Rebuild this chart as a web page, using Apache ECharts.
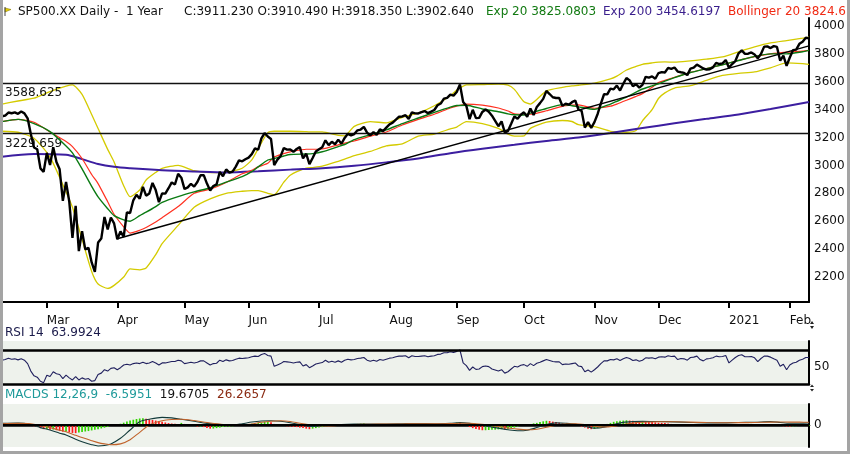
<!DOCTYPE html>
<html><head><meta charset="utf-8">
<script src="https://cdn.jsdelivr.net/npm/echarts@6/dist/echarts.min.js"></script>
<style>html,body{margin:0;padding:0;background:#fff;}#c{width:850px;height:454px;}</style>
</head><body><div id="c"></div>
<script>
// ---- data ----
const close = [
3352.09,3357.75,3379.45,3373.94,3380.16,3370.29,3386.15,3373.23,3337.75,3225.89,3128.21,3116.39,2978.76,2954.22,
3090.23,3003.37,3130.12,3023.94,2972.37,2746.56,2882.23,2741.38,2480.64,2711.02,2386.13,2529.19,2398.10,2409.39,2304.92,2237.40,2447.33,2475.56,2630.07,2541.47,2626.65,2584.59,
2470.50,2526.90,2488.65,2663.68,2659.41,2749.98,2789.82,2761.63,2846.06,2783.36,2799.55,2874.56,2823.16,2736.56,2799.31,2797.80,2836.74,2878.48,2863.39,2939.51,2912.43,
2830.71,2842.74,2868.44,2848.42,2881.19,2929.80,2930.32,2870.12,2820.00,2852.50,2863.70,2953.91,2922.94,2971.61,2948.51,2955.45,2991.77,3036.13,3029.73,3044.31,
3055.73,3080.82,3122.87,3112.35,3193.93,3232.39,3207.18,3190.14,3002.10,3041.31,3066.59,3124.74,3113.49,3115.34,3097.74,3117.86,3131.29,3050.33,3083.76,3009.05,3053.24,3100.29,
3115.86,3130.01,3179.72,3145.32,3169.94,3152.05,3185.04,3155.22,3197.52,3226.56,3215.57,3224.73,3251.84,3257.30,3276.02,3235.66,3215.63,3239.41,3218.44,3258.44,3246.22,3271.12,
3294.61,3306.51,3327.77,3349.16,3351.28,3360.47,3333.69,3380.35,3373.43,3372.85,3381.99,3389.78,3374.85,3385.51,3397.16,3431.28,3443.62,3478.73,3484.55,3508.01,3500.31,
3526.65,3580.84,3455.06,3426.96,3331.84,3398.96,3339.19,3340.97,3383.54,3401.20,3385.49,3357.01,3319.47,3281.06,3315.57,3236.92,3246.59,3298.46,3351.60,3335.47,3363.00,
3380.80,3348.42,3408.60,3360.97,3419.44,3446.83,3477.14,3534.22,3511.93,3488.67,3483.34,3483.81,3426.92,3443.12,3435.56,3453.49,3465.39,3400.97,3390.68,3271.03,3310.11,3269.96,
3310.24,3369.16,3443.44,3510.45,3509.44,3550.50,3545.53,3572.66,3537.01,3585.15,3626.91,3609.53,3567.79,3581.87,3557.54,3577.59,3635.41,3629.65,3638.35,3621.63,
3662.45,3669.01,3666.72,3699.12,3691.96,3702.25,3672.82,3668.10,3663.46,3647.49,3694.62,3701.17,3722.48,3709.41,3694.92,3687.26,3690.01,3703.06,3735.36,3727.04,3732.04,3756.07,
3700.65,3726.86,3748.14,3803.79,3824.68,3799.61,3801.19,3809.84,3795.54,3768.25,3798.91,3851.85,3853.07,3841.47,3855.36,3849.62,3750.77,3787.38,3714.24,
3773.86,3826.31,3830.17,3871.74,3886.83,3915.59,3911.23
];
const holidays = ['2020-02-17','2020-04-10','2020-05-25','2020-07-03','2020-09-07','2020-11-26','2020-12-25','2021-01-01','2021-01-18'];
const monthStartIdx = [14,36,57,77,99,121,142,163,185,205,227,246];
const monthLabels = ['Mar','Apr','May','Jun','Jul','Aug','Sep','Oct','Nov','Dec','2021','Feb'];
const priceTicks = [2200,2400,2600,2800,3000,3200,3400,3600,3800,4000];

const bandIdx = [0,5,10,15,20,22,25,28,30,33, 35,38,40,43,45,48,50,55,60,65, 70,75,78,80,83,85,88,90,95,97, 100,105,107,110,115,120,125,130,135,140, 142,145,150,155,158,160,163,165,170,175, 178,180,185,190,192,195,198,200,203,205, 207,210,215,220,225,230,235,240,245,250, 252];
const bbUpper = [3440,3462,3482,3529,3568,3577,3510,3365,3265,3115, 3025,2855,2776,2824,2896,2950,2979,3001,2962,2948, 2952,2980,3040,3120,3235,3245,3245,3245,3242,3240, 3240,3215,3212,3280,3314,3305,3345,3376,3428,3500, 3540,3577,3580,3584,3575,3545,3457,3440,3535,3560, 3570,3575,3590,3620,3640,3684,3710,3725,3735,3740, 3742,3740,3750,3762,3778,3815,3850,3878,3895,3912, 3920];
const bbLower = [3245,3238,3195,3060,2810,2700,2470,2240,2150,2118, 2140,2200,2258,2252,2265,2360,2440,2570,2700,2760, 2800,2815,2820,2820,2800,2790,2880,2930,2980,2985, 2995,3030,3045,3070,3100,3140,3155,3210,3225,3262, 3275,3314,3300,3265,3225,3210,3212,3266,3310,3322, 3315,3292,3278,3245,3240,3238,3250,3320,3400,3480, 3520,3555,3572,3610,3645,3660,3670,3700,3735,3730, 3725];
const sma20 = [3314,3330,3310,3240,3172,3135,3050,2935,2870,2740, 2650,2560,2515,2535,2555,2595,2625,2705,2800,2830, 2878,2940,2965,2990,3015,3060,3085,3097,3116,3116, 3118,3148,3160,3175,3210,3240,3290,3330,3367,3412, 3425,3440,3432,3412,3390,3370,3367,3367,3392,3424, 3432,3434,3410,3425,3440,3467,3495,3515,3560,3595, 3610,3632,3667,3694,3722,3753,3780,3800,3812,3820, 3825];
const ema20 = [3314,3330,3300,3242,3140,3090,2975,2850,2775,2690, 2640,2610,2600,2640,2665,2705,2735,2776,2810,2840, 2880,2920,2955,2990,3039,3050,3068,3078,3082,3085, 3098,3135,3150,3185,3220,3255,3300,3340,3380,3418, 3430,3432,3405,3385,3370,3363,3362,3375,3408,3436, 3428,3420,3402,3440,3460,3490,3525,3548,3570,3585, 3605,3630,3666,3694,3722,3752,3782,3800,3800,3815, 3825];

const ema200Idx = [0,10,20,25,30,35,40,50,60,70,80,90,100,110,120,130,140,150,160,170,180,190,200,210,220,230,240,252];
const ema200 = [3063,3082,3076,3045,3010,2990,2980,2966,2957,2950,2958,2970,2980,2998,3022,3050,3088,3120,3148,3176,3200,3232,3268,3302,3334,3366,3404,3455];

const trendIdx = [36,252];
const trendVal = [2475,3857];
const levels = [3588.625,3229.659];

const rsi14 = [
60,61,63,61.5,62,60.5,62,60,55,44,37,35,29,27,
38,36,43,40,39,33,38,34,31,36,31,34,32,33,29,30,39,41,46,44,48,49,
46,49,53,54,53,55,56,55,57,55,56,58,56,53,56,56,57,58,58,60,59,
55,56,57,56,57,59,59,56,53,55,55.5,60,58,60.5,59,59.5,61.5,63,62.5,63,
63.5,65,66,65.5,68.5,70,67,66,
51,53,55,58,57.5,57,56,57,57.5,51.5,53.5,49,51.5,54.5,
55.5,56.5,60,57,58.5,57,59,57,60,61.5,60.5,61,62.5,63,64,60,58.5,60,58.5,61,60,61.5,
63,63.5,65,66,66,66.5,63.5,66.5,65.5,65.5,66,66.5,65,66,66.5,68.5,69,71,71,72.5,71.5,
73,75,56,52,45,50,46.5,47,50.5,51.5,50.5,47,45.5,44,46,41,43,47,51,50,52.5,
53.5,51,55,52,55.5,57,59,61,59.5,58,57.5,57.5,53.5,54.5,54,55,56,51.5,50.5,43,45.5,42.5,
46,50,55,59,59,61,60.5,62,59.5,62,64,62.5,59.5,60.5,58.5,60,63.5,63,63.5,62,
64.5,65,64.5,66.5,65.5,66,61,62.5,62,60,64,64.5,66,61,59,62,62.5,63.5,66,65,65.5,67,
56,60,64,67,68,65,65,65.5,63.5,58,62.5,66,66,64.5,62,60,51,54,46,
53,56,57,60,61.5,64,64
];
const rsiTicks = [50];

const macdIdx = [0,5,9,12,15,18,20,23,25,28, 30,32,34,37,40,43,46,50,53,56, 60,64,68,72,75,78,81,84,87,90, 93,96,99,102,106,110,115,120,125,130, 135,140,143,146,149,152,155,158,161,164, 167,170,173,176,179,182,185,188,191,194, 197,200,205,210,215,220,225,230,235,240, 243,246,249,252];
const macdLine = [15,18,5,-25,-48,-78,-95,-135,-159,-188, -200,-196,-181,-127,-48,31,55,72,68,55, 35,15,5,0,12,28,38,41,35,22, 5,-14,-12,-4,4,8,10,10,12,14, 12,16,22,15,0,-15,-30,-45,-55,-50, -25,5,20,16,8,-12,-30,-22,5,25, 32,34,33,30,24,20,20,24,26,32, 24,16,17,19.67];
const macdSignal = [12,15,12,-5,-25,-50,-65,-98,-120,-150, -168,-180,-188,-180,-140,-70,0,40,52,54, 42,24,8,-5,-4,10,26,36,40,33, 16,2,-8,-9,-3,3,7,9,10,12, 12,13,16,16,10,-2,-15,-28,-40,-46, -40,-22,-2,9,11,4,-12,-20,-12,4, 18,26,31,31,27,23,21,22,24,27, 28,27.5,27,26.27];
const macdHist = [
2,3,4,3,3,2,2,1,-2,-6,
-12,-20,-30,-40,-38,-46,-44,-50,-58,-64,-62,-70,-76,-78,
-72,-68,-62,-58,-52,-46,-40,-33,-26,-18,-10,-4,
3,12,22,32,42,50,57,62,64,60,
54,48,42,36,30,24,18,14,12,10,
20,10,3,-5,-10,
-15,-14,-20,-30,-35,-34,-30,-25,-20,-15,
-15,-12,-10,-7,-3,3,8,12,15,18,
22,30,30,25,10,3,-5,-10,-12,-15,
-18,-20,-25,-30,-35,-40,-35,-30,-25,-20,
-12,-10,-7,-5,-3,3,3,5,8,8,
10,12,15,8,3,5,-3,-5,3,3,
3,5,8,10,10,12,8,10,5,8,
3,5,3,-3,3,5,8,10,12,15,
18,22,20,10,-5,-20,-30,-38,-45,-50,
-50,-48,-45,-45,-42,-40,-42,-40,-32,-25,
-15,-10,-5,3,8,15,20,28,35,40,
38,32,28,22,15,10,5,3,-5,-10,
-15,-25,-35,-40,-38,-30,-15,-3,10,20,
30,35,40,42,45,42,40,38,35,35,
32,30,28,25,22,20,18,15,10,5,
3,-5,-8,-10,-10,-10,-8,-8,-10,-10,
-10,-8,-8,-5,-3,3,-5,-5,-3,3,
8,10,10,10,8,5,3,5,8,8,
5,3,-6,-12,-14,-15,-13,-11,-10,-9,-8,-6.6
];
const macdTicks = [0];

// ---- build ----
function tradingDays(a, b, hol) {
  const out = [], h = new Set(hol);
  for (let t = Date.parse(a + 'T00:00:00Z'); t <= Date.parse(b + 'T00:00:00Z'); t += 86400000) {
    const d = new Date(t), wd = d.getUTCDay(), s = d.toISOString().slice(0, 10);
    if (wd !== 0 && wd !== 6 && !h.has(s)) out.push(s);
  }
  return out;
}
let dates = tradingDays('2020-02-10', '2021-02-09', holidays);
if (dates.length !== close.length) dates = close.map((_, i) => String(i));
const pairs = (idx, vals) => idx.map((i, k) => [i, vals[k]]);
const isMonthStart = (i) => monthStartIdx.indexOf(i) >= 0;

const FONT = 'DejaVu Sans';
const GL = 2, GW = 807;
const chart = echarts.init(document.getElementById('c'), null, {renderer: 'canvas'});

const subX = (gi) => ({
  type: 'category', gridIndex: gi, data: dates, boundaryGap: false,
  axisLine: {show: true, lineStyle: {color: '#000', width: 2.5}},
  axisTick: {show: false}, axisLabel: {show: false}, splitLine: {show: false}
});
const plain = (v) => String(v);
const hdr = (left, text, color) => ({left: left, top: 6, padding: 0, text: text,
  textStyle: {fontFamily: FONT, fontSize: 12, fontWeight: 'normal', color: color}});

const option = {
  animation: false,
  backgroundColor: '#ffffff',
  textStyle: {fontFamily: FONT},
  title: [
    hdr(18, 'SP500.XX Daily -  1 Year', '#111'),
    hdr(184, 'C:3911.230 O:3910.490 H:3918.350 L:3902.640', '#111'),
    hdr(486, 'Exp 20 3825.0803', '#127a12'),
    hdr(603, 'Exp 200 3454.6197', '#3a1e8c'),
    hdr(728, 'Bollinger 20 3824.6', '#f02a14'),
    {left: 5, top: 327, padding: 0, text: 'RSI 14  63.9924',
      textStyle: {fontFamily: FONT, fontSize: 12, fontWeight: 'normal', color: '#1a1a4a'}},
    {left: 5, top: 389, padding: 0, text: '{t|MACDS 12,26,9  -6.5951}{k|  19.6705}{b|  26.2657}',
      textStyle: {fontFamily: FONT, fontSize: 12, fontWeight: 'normal', rich: {
        t: {color: '#1f9a9a', fontSize: 12, fontFamily: FONT},
        k: {color: '#111', fontSize: 12, fontFamily: FONT},
        b: {color: '#8a2a12', fontSize: 12, fontFamily: FONT}
      }}}
  ],
  grid: [
    {left: GL, top: 18, width: GW, height: 284, containLabel: false},
    {left: GL, top: 341, width: GW, height: 43, show: true, backgroundColor: '#eef2ec', borderWidth: 0},
    {left: GL, top: 404, width: GW, height: 43, show: true, backgroundColor: '#eef2ec', borderWidth: 0}
  ],
  xAxis: [
    {type: 'category', gridIndex: 0, data: dates, boundaryGap: false,
     axisLine: {show: true, lineStyle: {color: '#000', width: 2}},
     axisTick: {show: true, interval: (i) => isMonthStart(i), length: 6, lineStyle: {color: '#000', width: 2}},
     axisLabel: {interval: (i) => isMonthStart(i), formatter: (v, i) => monthLabels[monthStartIdx.indexOf(i)] || '',
       align: 'left', margin: 13, fontSize: 12, color: '#111', fontFamily: FONT},
     splitLine: {show: false}},
    subX(1), subX(2)
  ],
  yAxis: [
    {type: 'value', gridIndex: 0, position: 'right', min: 2021, max: 4057,
     axisLine: {show: true, lineStyle: {color: '#000', width: 2}}, axisTick: {show: false},
     axisLabel: {customValues: priceTicks, formatter: plain, margin: 5, fontSize: 12, color: '#111', fontFamily: FONT},
     splitLine: {show: false}},
    {type: 'value', gridIndex: 1, position: 'right', min: 25, max: 88.235,
     axisLine: {show: true, lineStyle: {color: '#000', width: 2}}, axisTick: {show: false},
     axisLabel: {customValues: rsiTicks, formatter: plain, margin: 5, fontSize: 12, color: '#111', fontFamily: FONT},
     splitLine: {show: false}},
    {type: 'value', gridIndex: 2, position: 'right', min: -210, max: 200,
     axisLine: {show: true, lineStyle: {color: '#000', width: 2}}, axisTick: {show: false},
     axisLabel: {customValues: macdTicks, formatter: plain, margin: 5, fontSize: 12, color: '#111', fontFamily: FONT},
     splitLine: {show: false}}
  ],
  series: [
    {name: 'BB upper', type: 'line', xAxisIndex: 0, yAxisIndex: 0, data: pairs(bandIdx, bbUpper), symbol: 'none', smooth: 0.2,
     lineStyle: {color: '#d4cb00', width: 1.3}, z: 2, silent: true},
    {name: 'BB lower', type: 'line', xAxisIndex: 0, yAxisIndex: 0, data: pairs(bandIdx, bbLower), symbol: 'none', smooth: 0.2,
     lineStyle: {color: '#d4cb00', width: 1.3}, z: 2, silent: true},
    {name: 'Exp 200', type: 'line', xAxisIndex: 0, yAxisIndex: 0, data: pairs(ema200Idx, ema200), symbol: 'none', smooth: 0.3,
     lineStyle: {color: '#3c1ea0', width: 2}, z: 3, silent: true},
    {name: 'Bollinger 20', type: 'line', xAxisIndex: 0, yAxisIndex: 0, data: pairs(bandIdx, sma20), symbol: 'none', smooth: 0.2,
     lineStyle: {color: '#ff3020', width: 1.2}, z: 4, silent: true},
    {name: 'Exp 20', type: 'line', xAxisIndex: 0, yAxisIndex: 0, data: pairs(bandIdx, ema20), symbol: 'none', smooth: 0.2,
     lineStyle: {color: '#0a7a12', width: 1.4}, z: 5, silent: true},
    {name: 'Trend', type: 'line', xAxisIndex: 0, yAxisIndex: 0, data: pairs(trendIdx, trendVal), symbol: 'none',
     lineStyle: {color: '#000', width: 1.5}, z: 6, silent: true,
     markLine: {silent: true, symbol: 'none', animation: false, precision: 3,
       lineStyle: {color: '#111', width: 1.3, type: 'solid'},
       label: {show: true, position: 'insideStartBottom', formatter: (p) => levels[p.dataIndex].toFixed(3), color: '#111',
         fontSize: 12, fontFamily: FONT, distance: [3, 4]},
       data: levels.map(v => ({yAxis: v}))}},
    {name: 'Close', type: 'line', xAxisIndex: 0, yAxisIndex: 0, data: close, symbol: 'none',
     lineStyle: {color: '#000', width: 2.4}, z: 10, silent: true},

    {name: 'RSI', type: 'line', xAxisIndex: 1, yAxisIndex: 1, data: rsi14, symbol: 'none',
     lineStyle: {color: '#20205e', width: 1.1}, silent: true,
     markLine: {silent: true, symbol: 'none', label: {show: false},
       lineStyle: {color: '#000', width: 2.5, type: 'solid'}, data: [{yAxis: 75}]}},

    {name: 'Hist', type: 'bar', xAxisIndex: 2, yAxisIndex: 2, data: macdHist, barWidth: 1.7, silent: true,
     itemStyle: {color: (p) => (p.dataIndex === 0 || macdHist[p.dataIndex] >= macdHist[p.dataIndex - 1]) ? '#33d400' : '#ff1a1a'},
     markLine: {silent: true, symbol: 'none', label: {show: false},
       lineStyle: {color: '#000', width: 2, type: 'solid'}, data: [{yAxis: 0}]}},
    {name: 'MACD', type: 'line', xAxisIndex: 2, yAxisIndex: 2, data: pairs(macdIdx, macdLine), symbol: 'none', smooth: 0.3,
     lineStyle: {color: '#123a3a', width: 1.1}, z: 4, silent: true},
    {name: 'Signal', type: 'line', xAxisIndex: 2, yAxisIndex: 2, data: pairs(macdIdx, macdSignal), symbol: 'none', smooth: 0.3,
     lineStyle: {color: '#c0622a', width: 1.1}, z: 4, silent: true}
  ],
  graphic: [
    {type: 'rect', shape: {x: 0, y: 0, width: 3, height: 454}, style: {fill: '#a4a4a4'}, silent: true, z: 100},
    {type: 'rect', shape: {x: 847, y: 0, width: 3, height: 454}, style: {fill: '#a4a4a4'}, silent: true, z: 100},
    {type: 'rect', shape: {x: 0, y: 451, width: 850, height: 3}, style: {fill: '#a4a4a4'}, silent: true, z: 100},
    {type: 'polygon', shape: {points: [[5, 8], [11, 9.5], [5, 12]]}, style: {fill: '#e6d000', stroke: '#8a7a00', lineWidth: 0.6}, silent: true, z: 100},
    {type: 'line', shape: {x1: 5, y1: 7, x2: 5, y2: 16}, style: {stroke: '#444', lineWidth: 1}, silent: true, z: 100},
    {type: 'polygon', shape: {points: [[810, 324], [814, 324], [812, 321]]}, style: {fill: '#222'}, silent: true, z: 100},
    {type: 'polygon', shape: {points: [[810, 326], [814, 326], [812, 329]]}, style: {fill: '#222'}, silent: true, z: 100},
    {type: 'polygon', shape: {points: [[810, 387], [814, 387], [812, 384.5]]}, style: {fill: '#222'}, silent: true, z: 100},
    {type: 'polygon', shape: {points: [[810, 389], [814, 389], [812, 391.5]]}, style: {fill: '#222'}, silent: true, z: 100}
  ]
};
chart.setOption(option);
</script>
</body></html>
